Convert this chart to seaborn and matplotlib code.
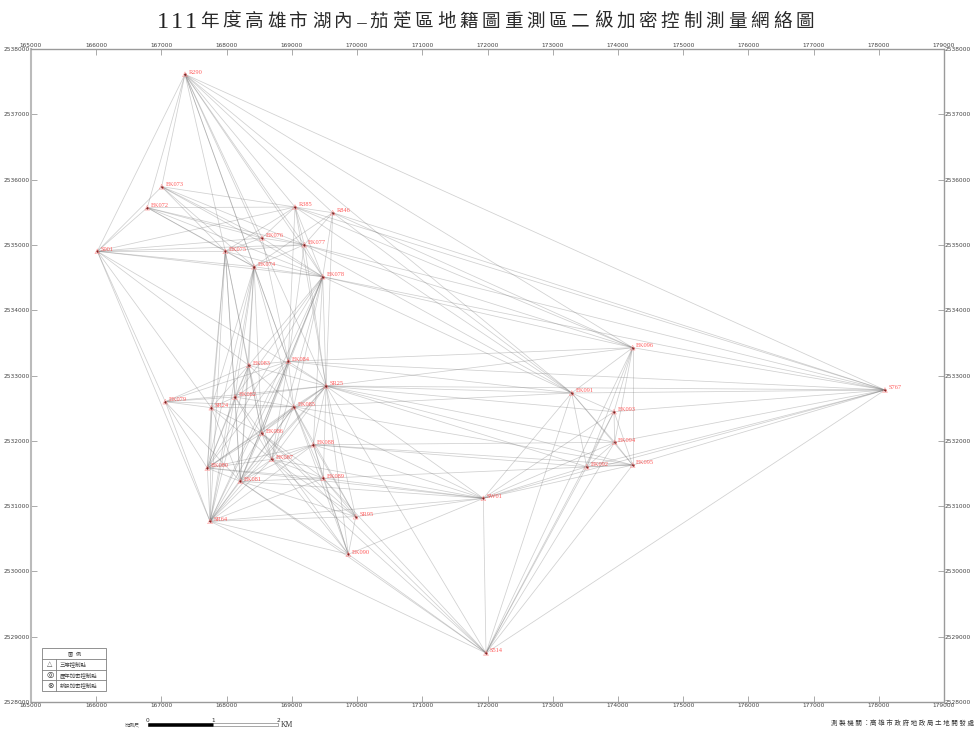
import numpy as np
import pandas as pd
import matplotlib
matplotlib.use("Agg")
import matplotlib.pyplot as plt
from matplotlib.patches import Rectangle
import seaborn as sns

sns.set_style("white")
cjk = ['Liberation Serif', 'Noto Sans CJK TC', 'DejaVu Sans']

TITLE = "111年度高雄市湖內-茄萣區地籍圖重測區二級加密控制測量網絡圖"
OFFICE = "測製機關：高雄市政府地政局土地開發處"
LEGEND_ROWS = ["三等控制點", "歷年加密控制點", "新設加密控制點"]

names = ["R290", "EK073", "EK072", "S001", "EK075", "EK074", "EK076", "R385", "R846", "EK077", "EK078",
         "EK079", "SR24", "EK083", "EK084", "SR25", "EK082", "EK085", "EK086", "EK087", "EK088", "EK089",
         "EK080", "EK081", "SR95", "SR64", "EK090", "EK096", "EK091", "EK093", "EK094", "EK092", "EK095",
         "S767", "SW01", "S514"]
east = [167361, 167004, 166783, 166017, 167979, 168420, 168542, 169048, 169626, 169191, 169473,
        167059, 167765, 168338, 168945, 169524, 168128, 169028, 168538, 168691, 169329, 169482,
        167703, 168209, 169979, 167745, 169866, 174226, 173291, 173940, 173950, 173521, 174226,
        178095, 171936, 171977]
north = [2537613, 2535891, 2535570, 2534902, 2534902, 2534666, 2535106, 2535580, 2535493, 2535003, 2534513,
         2532599, 2532507, 2533156, 2533217, 2532839, 2532671, 2532522, 2532115, 2531717, 2531940, 2531426,
         2531583, 2531380, 2530838, 2530767, 2530262, 2533426, 2532732, 2532446, 2531977, 2531603, 2531629,
         2532778, 2531119, 2528750]

links_r290 = ["S001", "EK073", "EK072", "EK075", "EK074", "EK076", "R385", "EK077", "EK078", "R846", "SR25",
              "EK084", "EK096", "EK091", "S767"]
links_s001 = ["EK073", "EK072", "EK075", "EK074", "EK076", "R385", "EK077", "EK078", "SR24", "SR64", "EK083",
              "SR25", "EK079"]
links_ek073 = ["R385", "EK076", "EK077", "EK075", "EK078", "EK074"]
links_ek072 = ["R385", "EK075", "EK074", "EK076", "EK077", "EK078"]
links_ek075 = ["R385", "EK076", "EK074", "EK078", "EK077", "SR24", "EK083", "EK082", "EK080", "EK081", "SR64",
               "EK086"]
links_ek074 = ["EK077", "EK078", "R846", "EK083", "EK082", "EK080", "EK081", "SR64", "EK084",
               "EK085", "SR24", "EK086"]
links_ek076 = ["R385", "EK077", "EK078", "EK084"]
links_r385 = ["R846", "EK077", "EK078", "SR25", "EK084", "EK096", "S767", "EK091"]
links_r846 = ["EK077", "EK078", "SR25", "EK096", "S767", "EK091"]
links_ek077 = ["EK078", "SR25", "EK084", "EK096", "S767", "EK091"]
links_ek078 = ["SR25", "EK084", "EK083", "EK085", "EK082", "EK096", "S767", "EK091", "EK086", "EK087", "EK081",
               "EK080", "SR64", "EK088"]
links_ek079 = ["SR24", "EK082", "EK083", "EK084", "EK085", "SR25", "EK080", "SR64", "EK081"]
links_sr24 = ["EK082", "EK083", "EK085", "EK086", "EK087", "SR64", "EK080", "EK081"]
links_ek083 = ["EK084", "SR25", "EK082", "EK085", "EK086", "EK087", "EK080", "EK081", "SR64"]
links_ek084 = ["SR25", "EK082", "EK085", "EK086", "EK087", "EK080", "EK081", "SR64", "EK096", "S767", "EK091"]
links_sr25 = ["EK082", "EK085", "EK086", "EK087", "EK088", "EK089", "EK081", "EK080", "SR64", "EK090", "SR95",
              "SW01", "S514", "EK091", "EK096", "S767", "EK093", "EK094", "EK092", "EK095"]
links_ek082 = ["EK085", "EK086", "EK087", "EK080", "EK081", "SR64"]
links_ek085 = ["EK086", "EK087", "EK088", "EK089", "EK080", "EK081", "SR64", "EK090", "SR95",
               "EK091", "EK095", "SW01"]
links_ek086 = ["EK087", "EK080", "EK081", "SR64", "SR95", "EK090", "EK089", "S514"]
links_ek087 = ["EK088", "EK089", "EK080", "EK081", "SR64", "SR95", "EK090", "SW01", "S514"]
links_ek088 = ["EK089", "EK081", "SR64", "SR95", "EK090", "EK092", "EK095", "EK094", "EK080", "SW01"]
links_ek089 = ["EK080", "EK081", "SR64", "SR95", "EK090", "SW01", "EK095", "S514"]
links_ek080 = ["EK081", "SR64", "SW01"]
links_ek081 = ["SR64", "SR95", "EK090", "SW01", "S514"]
links_sr95 = ["SR64", "EK090", "SW01"]
links_sr64 = ["EK090", "SW01", "S514"]
links_ek090 = ["SW01", "S514"]
links_ek096 = ["EK091", "EK093", "EK094", "EK092", "EK095", "S767", "S514"]
links_ek091 = ["EK093", "EK094", "EK092", "EK095", "S767", "SW01", "S514"]
links_ek093 = ["EK094", "EK092", "EK095", "S767", "SW01", "S514"]
links_ek094 = ["EK092", "EK095", "S767", "SW01", "S514"]
links_ek092 = ["EK095", "S767", "SW01", "S514"]
links_ek095 = ["S767", "SW01", "S514"]
links_s767 = ["SW01", "S514"]
links_sw01 = ["S514"]

all_links = {"R290": links_r290, "S001": links_s001, "EK073": links_ek073, "EK072": links_ek072,
             "EK075": links_ek075, "EK074": links_ek074, "EK076": links_ek076, "R385": links_r385,
             "R846": links_r846, "EK077": links_ek077, "EK078": links_ek078, "EK079": links_ek079,
             "SR24": links_sr24, "EK083": links_ek083, "EK084": links_ek084, "SR25": links_sr25,
             "EK082": links_ek082, "EK085": links_ek085, "EK086": links_ek086, "EK087": links_ek087,
             "EK088": links_ek088, "EK089": links_ek089, "EK080": links_ek080, "EK081": links_ek081,
             "SR95": links_sr95, "SR64": links_sr64, "EK090": links_ek090, "EK096": links_ek096,
             "EK091": links_ek091, "EK093": links_ek093, "EK094": links_ek094, "EK092": links_ek092,
             "EK095": links_ek095, "S767": links_s767, "SW01": links_sw01}

pts = pd.DataFrame({"name": names, "e": east, "n": north}).set_index("name")

rows = []
k = 0
for a in all_links:
    for b in all_links[a]:
        rows.append((k, pts.e[a], pts.n[a]))
        rows.append((k, pts.e[b], pts.n[b]))
        k += 1
lines = pd.DataFrame(rows, columns=["edge", "e", "n"])

fig = plt.figure(figsize=(9.78, 7.31), dpi=100)
W, H = 978.0, 731.0
ax = fig.add_axes([31 / W, 1 - 702 / H, 913 / W, 653 / H])

sns.lineplot(data=lines, x="e", y="n", units="edge", estimator=None, sort=False,
             color="#707070", alpha=0.33, lw=0.55, ax=ax, legend=False)
sns.scatterplot(data=pts, x="e", y="n", s=3, color="#8a1f1f", marker="o", linewidth=0, ax=ax, zorder=4)
sns.scatterplot(data=pts, x="e", y="n", s=12, facecolor="none", edgecolor="#ff9090", marker="^", linewidth=0.35, ax=ax, zorder=4)

for nm, row in pts.iterrows():
    ax.annotate(nm, (row.e, row.n), xytext=(2.6, 1.5), textcoords="offset points", color="#ff4040",
                fontsize=4.6, family="Liberation Serif", va="center", ha="left", alpha=0.85)

ax.set_xlim(165000, 179000)
ax.set_ylim(2528000, 2538000)
ax.set_xticks(np.arange(165000, 179001, 1000))
ax.set_yticks(np.arange(2528000, 2538001, 1000))
ax.ticklabel_format(useOffset=False, style="plain")
ax.set_xlabel("")
ax.set_ylabel("")
ax.tick_params(axis="both", which="both", direction="in", length=4, width=0.5, color="#888888",
               labelsize=4.2, labelcolor="#444444", pad=0.6, top=True, right=True, bottom=True, left=True,
               labeltop=True, labelright=True, labelbottom=True, labelleft=True)
for side in ax.spines:
    ax.spines[side].set_color("#9a9a9a")
    ax.spines[side].set_linewidth(1.0)
ax.spines["left"].set_linewidth(1.5)
ax.spines["left"].set_color("#bbbbbb")

# title drawn char by char, the tracking is very wide and not even
def char_w(c):
    if c.isdigit():
        return 14.0
    if c == "-":
        return 13.0
    return 22.4

cx = 163.0
for i, ch in enumerate(TITLE):
    if ch.isdigit():
        fig.text(cx / W, 1 - 23 / H, ch, fontsize=17.5, ha="center", va="center", family="Liberation Serif", color="#222222")
    elif ch == "-":
        fig.add_artist(plt.Line2D([(cx - 4.5) / W, (cx + 4.5) / W], [1 - 22.5 / H] * 2, color="#444444", lw=0.7))
    else:
        fig.text(cx / W, 1 - 22 / H, ch, fontsize=13.4, ha="center", va="center", family=cjk, color="#2a2a2a")
    if i < len(TITLE) - 1:
        cx += (char_w(ch) + char_w(TITLE[i + 1])) / 2

# legend box
box_l, box_r = 42, 106
levels = [648, 658.5, 669.5, 680, 691]
ink = "#808080"
fig.add_artist(Rectangle((box_l / W, 1 - 691 / H), (box_r - box_l) / W, 43 / H, fill=False,
                         edgecolor=ink, lw=0.6, transform=fig.transFigure))
for y in levels[1:-1]:
    fig.add_artist(plt.Line2D([box_l / W, box_r / W], [1 - y / H] * 2, color=ink, lw=0.6))
fig.add_artist(plt.Line2D([56 / W, 56 / W], [1 - 658.5 / H, 1 - 691 / H], color=ink, lw=0.6))
fig.text(75 / W, 1 - 653.5 / H, "圖  例", fontsize=3.8, ha="center", va="center", family=cjk, color="#444444")
for i, lab in enumerate(LEGEND_ROWS):
    yc = (levels[i + 1] + levels[i + 2]) / 2
    fig.text(60 / W, 1 - yc / H, lab, fontsize=3.9, ha="left", va="center", family=cjk, color="#444444")
fig.text(50 / W, 1 - 664 / H, "△", fontsize=5, ha="center", va="center", family="DejaVu Sans", color="#555555")
fig.text(50 / W, 1 - 675 / H, "◎", fontsize=6, ha="center", va="center", family="DejaVu Sans", color="#333333")
fig.text(50 / W, 1 - 685.5 / H, "⊗", fontsize=5.5, ha="center", va="center", family="DejaVu Sans", color="#333333")

# scale bar
fig.add_artist(Rectangle((148 / W, 1 - 726 / H), 65 / W, 3 / H, facecolor="black", edgecolor="black", lw=0.4,
                         transform=fig.transFigure))
fig.add_artist(Rectangle((213 / W, 1 - 726 / H), 65 / W, 3 / H, facecolor="white", edgecolor="#666666", lw=0.4,
                         transform=fig.transFigure))
for px, lab in zip([148, 213, 278], ["0", "1", "2"]):
    fig.text(px / W, 1 - 720 / H, lab, fontsize=4.2, ha="center", va="center", family="DejaVu Sans", color="#333333")
fig.text(132 / W, 1 - 725 / H, "比例尺", fontsize=3.6, ha="center", va="center", family=cjk, color="#444444")
fig.text(287 / W, 1 - 725 / H, "KM", fontsize=5.5, ha="center", va="center", family="Liberation Serif", color="#333333")

fig.text(831 / W, 1 - 723 / H, " ".join(OFFICE[:4]) + " ：" + " ".join(OFFICE[5:]), fontsize=4.7, ha="left", va="center", family=cjk, color="#333333")

fig.savefig("out.png", dpi=100)
